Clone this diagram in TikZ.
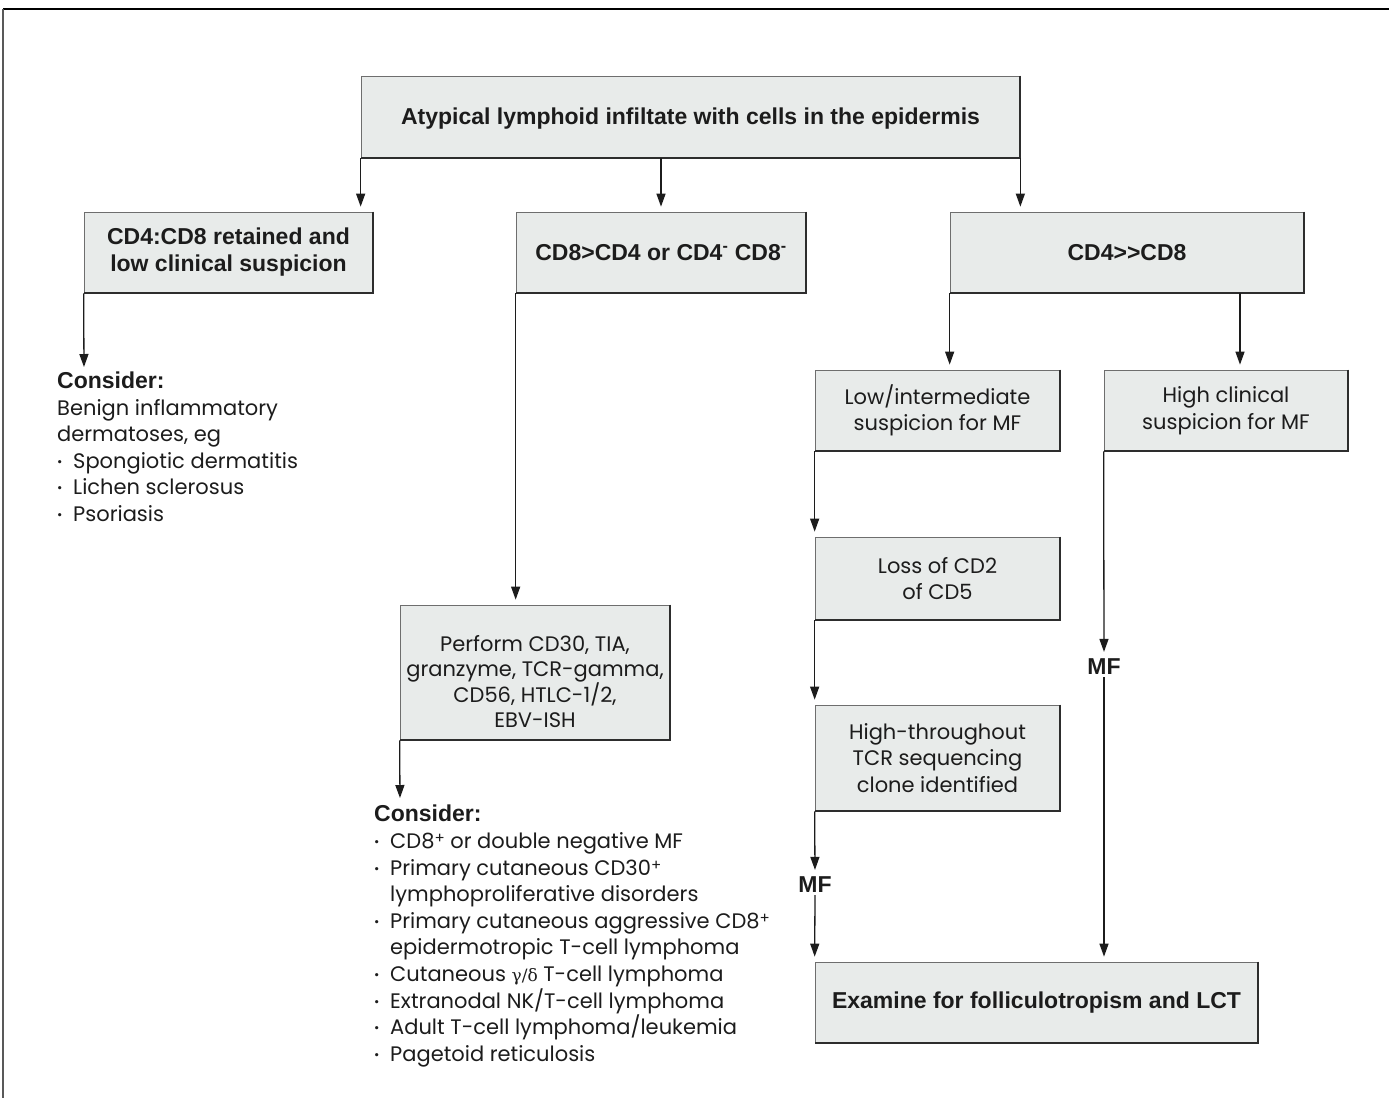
\documentclass[tikz,border=0pt]{standalone}
\usepackage{fontspec}
\setmainfont{Poppins}
\newfontfamily\boldfam{Liberation Sans}
\newfontfamily\grkfam{DejaVu Serif}
\usetikzlibrary{arrows.meta}
\definecolor{boxfill}{RGB}{232,235,234}
\definecolor{boxline}{RGB}{110,110,110}
\definecolor{shadowline}{RGB}{45,45,45}
\definecolor{ink}{RGB}{28,28,28}
\newcommand\bsz{\boldfam\bfseries\fontsize{23}{27}\selectfont}
\newcommand\rsz{\fontsize{21}{26.5}\selectfont}
\newcommand\bul{\makebox[16pt][l]{\fontsize{13}{13}\selectfont\raisebox{2pt}{•}}}
\newcommand\plussup{\raisebox{5pt}{\fontsize{15}{15}\selectfont +}}
\begin{document}
\begin{tikzpicture}[x=1pt,y=-1pt,
  box/.style={draw=boxline, fill=boxfill, line width=0.7pt, inner sep=0pt, align=center, text=ink},
  arr/.style={draw=ink, line width=1.3pt, -{Triangle[length=13pt,width=9pt]}, shorten >=5pt},
  lbl/.style={inner sep=0pt, text=ink, align=left, anchor=north west, font=\rsz},
  mf/.style={inner sep=2pt, text=ink, font=\bsz}]
\useasboundingbox (0,0) rectangle (1389,1098);
% frame
\draw[black, line width=2pt] (3,9) -- (1389,9);
\draw[black!65, line width=2pt] (3,9) -- (3,1098);
% boxes
\node[box, minimum width=659pt, minimum height=82pt, font=\bsz] (top) at (690.5,117) {\rule{0pt}{20pt}Atypical lymphoid infiltate with cells in the epidermis};
\node[box, minimum width=289pt, minimum height=81pt, font=\bsz] (cd48) at (228.5,252.5) {CD4:CD8 retained and\\low clinical suspicion};
\node[box, minimum width=290pt, minimum height=81pt, font=\bsz] (cd84) at (661,252.5) {CD8>CD4 or CD4\textsuperscript{-} CD8\textsuperscript{-}};
\node[box, minimum width=354pt, minimum height=81pt, font=\bsz] (cd4) at (1127,252.5) {CD4>>CD8};
\node[box, minimum width=245pt, minimum height=81pt, font=\rsz] (low) at (937.5,410.5) {Low/intermediate\\suspicion for MF};
\node[box, minimum width=244pt, minimum height=81pt, font=\rsz] (high) at (1226,410.5) {High clinical\\suspicion for MF};
\node[box, minimum width=245pt, minimum height=83pt, font=\rsz] (loss) at (937.5,578.5) {Loss of CD2\\of CD5};
\node[box, minimum width=245pt, minimum height=106pt, font=\rsz] (hts) at (937.5,758) {High-throughout\\TCR sequencing\\clone identified};
\node[box, minimum width=270pt, minimum height=135pt, font=\fontsize{21}{24.5}\selectfont] (perf) at (535,672.5) {\rule{0pt}{34pt}Perform CD30, TIA,\\granzyme, TCR-gamma,\\CD56, HTLC-1/2,\\EBV-ISH};
\node[box, minimum width=443pt, minimum height=81pt, font=\bsz] (exam) at (1036.5,1002.5) {Examine for folliculotropism and LCT};
% shadow edges
\foreach \n in {top,cd48,cd84,cd4,low,high,loss,hts,perf,exam}
  \draw[shadowline, line width=1.8pt] (\n.north east) -- (\n.south east) -- (\n.south west);
% text blocks
\node[lbl] (cons1) at (57,372) {{\bsz Consider:}\\Benign inflammatory\\dermatoses, eg\\\bul Spongiotic dermatitis\\\bul Lichen sclerosus\\\bul Psoriasis};
\node[lbl, font=\fontsize{21}{26.6}\selectfont] (cons2) at (374,805) {{\bsz Consider:}\\\bul CD8\plussup{} or double negative MF\\\bul Primary cutaneous CD30\plussup\\\hspace*{16pt}lymphoproliferative disorders\\\bul Primary cutaneous aggressive CD8\plussup\\\hspace*{16pt}epidermotropic T-cell lymphoma\\\bul Cutaneous {\grkfam\fontsize{17}{17}\selectfont γ/δ} T-cell lymphoma\\\bul Extranodal NK/T-cell lymphoma\\\bul Adult T-cell lymphoma/leukemia\\\bul Pagetoid reticulosis};
\node[mf] (mf1) at (815,885) {MF};
\node[mf] (mf2) at (1104,667) {MF};
% connectors
\draw[arr] (top.south west) -- (top.south west |- cd48.north);
\draw[arr] (top.south -| cd84.north) -- (cd84.north);
\draw[arr] (top.south east) -- (top.south east |- cd4.north);
\coordinate (c1) at (84,372);
\draw[arr] (cd48.south west) -- (c1);
\draw[arr] (cd84.south west) -- (cd84.south west |- perf.north);
\coordinate (c2) at (400,803);
\draw[arr] (perf.south west) -- (c2);
\draw[arr] (cd4.south west) -- (cd4.south west |- low.north);
\coordinate (c3) at (1240,293);
\draw[arr] (c3) -- (c3 |- high.north);
\draw[arr] (low.south west) -- (loss.north west);
\draw[arr] (loss.south west) -- (hts.north west);
\draw[arr] (hts.south west) -- (mf1.north);
\draw[arr] (mf1.south) -- (exam.north west);
\draw[arr] (high.south west) -- (mf2.north);
\draw[arr] (mf2.south) -- (mf2.south |- exam.north);
\end{tikzpicture}
\end{document}
